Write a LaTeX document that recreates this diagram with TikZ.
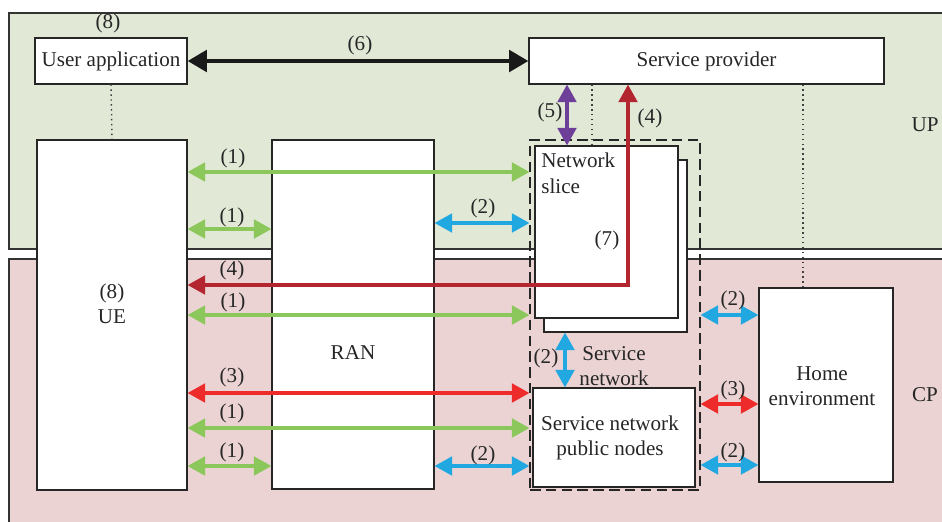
\documentclass[tikz,border=0pt]{standalone}
\usepackage{fontspec}
\setmainfont{Liberation Serif}
\usetikzlibrary{arrows.meta,fit}
\definecolor{upfill}{HTML}{E1E8D6}
\definecolor{cpfill}{HTML}{EBD3D3}
\definecolor{lgreen}{HTML}{8CC75B}
\definecolor{lblue}{HTML}{22A8E0}
\definecolor{lred}{HTML}{EE2B2B}
\definecolor{dred}{HTML}{B3252F}
\definecolor{lpurple}{HTML}{6E3F98}
\tikzset{
  every node/.style={font=\fontsize{12}{14.5}\selectfont, text=black!85},
  band/.style={draw=black!80,line width=0.6pt},
  box/.style={draw=black!85,fill=white,line width=0.6pt,inner sep=0pt},
  dbox/.style={draw=black!85,dashed,dash pattern=on 6pt off 3pt,line width=0.6pt,inner sep=0pt},
  link/.style={line width=2.1pt,{Triangle[length=10pt,width=10.5pt]}-{Triangle[length=10pt,width=10.5pt]}},
  num/.style={inner sep=0pt},
  dot/.style={dotted,line width=0.8pt,black!75}
}
\begin{document}
\begin{tikzpicture}[x=0.02cm,y=-0.02cm]
\useasboundingbox (0,0) rectangle (942,521);
\clip (0,0) rectangle (942,521);
\draw[band,fill=upfill] (9,13) rectangle (950,249);
\draw[band,fill=cpfill] (9,259) rectangle (950,530);
\node (up) at (925,125) {UP};
\node (cp) at (925,395) {CP};

\node[box,fit={(35,38) (187,84)}] (app) {};
\node (apptext) at (app.center) {User application};
\node[num] (n8a) at (108,23) {(8)};
\node[box,fit={(529,38) (884,84)}] (sp) {};
\node (sptext) at (sp.center) {Service provider};
\node[box,fit={(37,140) (187,490)}] (ue) {};
\node[align=center] (uetext) at (112,304) {(8)\\UE};
\node[box,fit={(272,140) (434,489)}] (ran) {};
\node (rantext) at (353,353) {RAN};
\node[dbox,fit={(530,140) (700,490)}] (snet) {};
\node[box,fit={(544,160) (687,332)}] (slice2) {};
\node[box,fit={(535,146) (678,318)}] (slice) {};
\node[anchor=north west,align=left,inner sep=0pt] (slicetext) at (541,153) {Network\\slice};
\node[num] (n7) at (607,240) {(7)};
\node[align=center,inner sep=0pt] (sntext) at (614,366) {Service\\network};
\node[box,fit={(533,388) (695,487)}] (pub) {};
\node[align=center] (pubtext) at (610,438) {Service network\\public nodes};
\node[box,fit={(759,288) (893,482)}] (home) {};
\node[align=center] (hometext) at (822,386) {Home\\environment};

\coordinate (g1) at (0,172);
\coordinate (g2) at (0,229);
\coordinate (b1) at (0,223);
\coordinate (d4) at (0,285);
\coordinate (g3) at (0,315);
\coordinate (r3) at (0,393);
\coordinate (g4) at (0,428);
\coordinate (g5) at (0,466);
\coordinate (b3) at (0,315);
\coordinate (r4) at (0,404);
\coordinate (b4) at (0,465);
\coordinate (v5) at (567,0);
\coordinate (v4) at (628,0);
\coordinate (v2) at (565,0);
\coordinate (t1) at (592,0);
\coordinate (t2) at (803,0);

\draw[dot] (app.south) -- (ue.north);
\draw[dot] (sp.south -| t1) -- (slice.north -| t1);
\draw[dot] (sp.south -| t2) -- (home.north -| t2);

\draw[link,line width=2.8pt,{Triangle[length=11pt,width=12pt]}-{Triangle[length=11pt,width=12pt]},black!90] (app.east) -- (sp.west);
\node[num] (n6) at (360,45) {(6)};
\draw[link,lpurple] (sp.south -| v5) -- (slice.north -| v5);
\node[num] (n5) at (550,112) {(5)};
\draw[link,dred] (ue.east |- d4) -| (sp.south -| v4);
\node[num] (n4a) at (650,118) {(4)};
\node[num] (n4b) at (232,270) {(4)};

\draw[link,lgreen] (ue.east |- g1) -- (snet.west |- g1);
\node[num] (n1a) at (233,158) {(1)};
\draw[link,lgreen] (ue.east |- g2) -- (ran.west |- g2);
\node[num] (n1b) at (232,217) {(1)};
\draw[link,lblue] (ran.east |- b1) -- (snet.west |- b1);
\node[num] (n2a) at (483,208) {(2)};
\draw[link,lgreen] (ue.east |- g3) -- (snet.west |- g3);
\node[num] (n1c) at (233,302) {(1)};
\draw[link,lred] (ue.east |- r3) -- (snet.west |- r3);
\node[num] (n3a) at (232,377) {(3)};
\draw[link,lgreen] (ue.east |- g4) -- (snet.west |- g4);
\node[num] (n1d) at (232,413) {(1)};
\draw[link,lgreen] (ue.east |- g5) -- (ran.west |- g5);
\node[num] (n1e) at (232,452) {(1)};
\draw[link,lblue] (ran.east |- g5) -- (snet.west |- g5);
\node[num] (n2b) at (483,455) {(2)};

\draw[link,lblue] (slice2.south -| v2) -- (pub.north -| v2);
\node[num] (n2c) at (546,358) {(2)};

\draw[link,lblue] (snet.east |- b3) -- (home.west |- b3);
\node[num] (n2d) at (733,300) {(2)};
\draw[link,lred] (snet.east |- r4) -- (home.west |- r4);
\node[num] (n3b) at (733,390) {(3)};
\draw[link,lblue] (snet.east |- b4) -- (home.west |- b4);
\node[num] (n2e) at (733,452) {(2)};
\end{tikzpicture}
\end{document}
